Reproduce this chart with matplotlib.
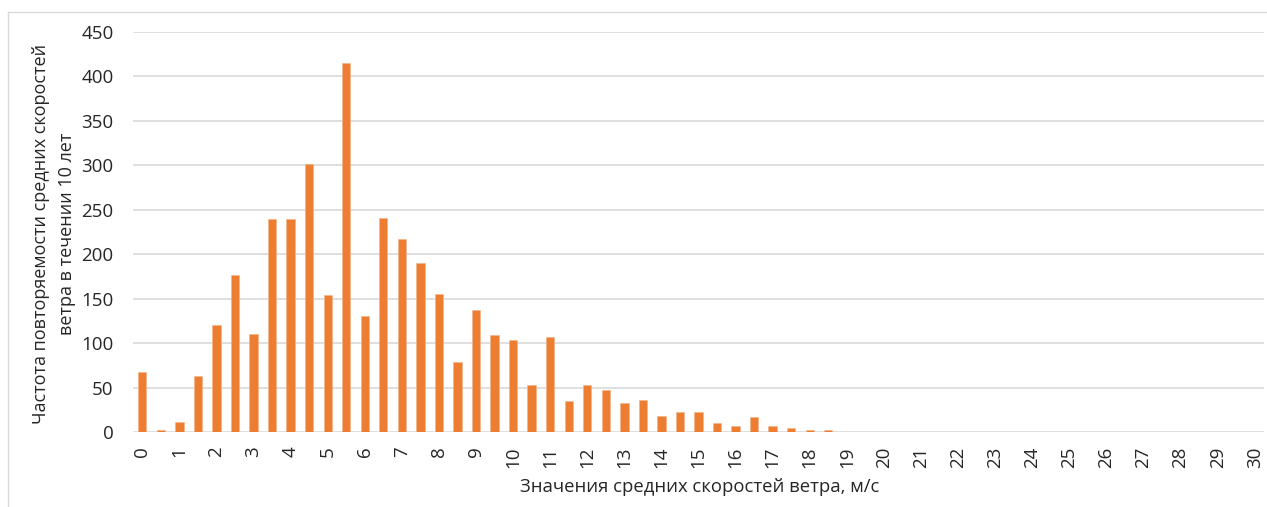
import numpy as np
import matplotlib
matplotlib.use("Agg")
import matplotlib.pyplot as plt
from matplotlib.lines import Line2D

plt.rcParams['font.family'] = ['Open Sans', 'DejaVu Sans']

# Wind speed classes, m/s (step 0.5)
speeds = [i * 0.5 for i in range(61)]
# Number of occurrences over 10 years for each class
counts = [67, 2, 11, 63, 120, 177, 110, 240, 240, 302,
          154, 415, 131, 241, 217, 190, 155, 79, 137, 109,
          103, 53, 107, 35, 53, 47, 33, 36, 18, 23,
          22, 10, 7, 17, 7, 4, 2, 2] + [0] * 23
tick_values = list(range(0, 31))
tick_labels = [str(v) for v in tick_values]

y_ticks = list(range(0, 451, 50))

W, H = 1267, 507
fig = plt.figure(figsize=(W / 100, H / 100), dpi=100)

# chart-area frame (top and left edges)
fig.add_artist(Line2D([8 / W, 1.0], [1 - 12 / H, 1 - 12 / H], color='#d9d9d9', lw=1))
fig.add_artist(Line2D([8 / W, 8 / W], [0, 1 - 12 / H], color='#d9d9d9', lw=1))

ax = fig.add_axes([133 / W, 75 / H, (1264 - 133) / W, (432 - 32) / H])

bar_color = '#ED7D31'
text_color = '#262626'
ax.bar(speeds, counts, width=0.225, color=bar_color, edgecolor='#f4b183', linewidth=0.4, zorder=3)

ax.set_xlim(-0.25, 30.25)
ax.set_ylim(0, 450)
ax.set_yticks(y_ticks)
ax.set_xticks(tick_values)
ax.set_xticklabels(tick_labels, rotation=90)

ax.yaxis.grid(True, color='#d9d9d9', linewidth=1.2, zorder=0)
ax.set_axisbelow(True)
for s in ax.spines.values():
    s.set_visible(False)
ax.tick_params(axis='both', length=0, labelsize=13.5, colors=text_color)
ax.tick_params(axis='x', pad=10.5)
ax.tick_params(axis='y', pad=14)

fig.text((522 + 878) / 2 / W, 1 - 487 / H, 'Значения средних скоростей ветра, м/с',
         ha='center', va='center', fontsize=13.3, color=text_color)
fig.text(54 / W, 1 - 234 / H, 'Частота повторяемости средних скоростей\nветра в течении 10 лет',
         ha='center', va='center', rotation=90, fontsize=13.0, color=text_color,
         linespacing=1.6, multialignment='center')

fig.savefig('out.png', dpi=100)
